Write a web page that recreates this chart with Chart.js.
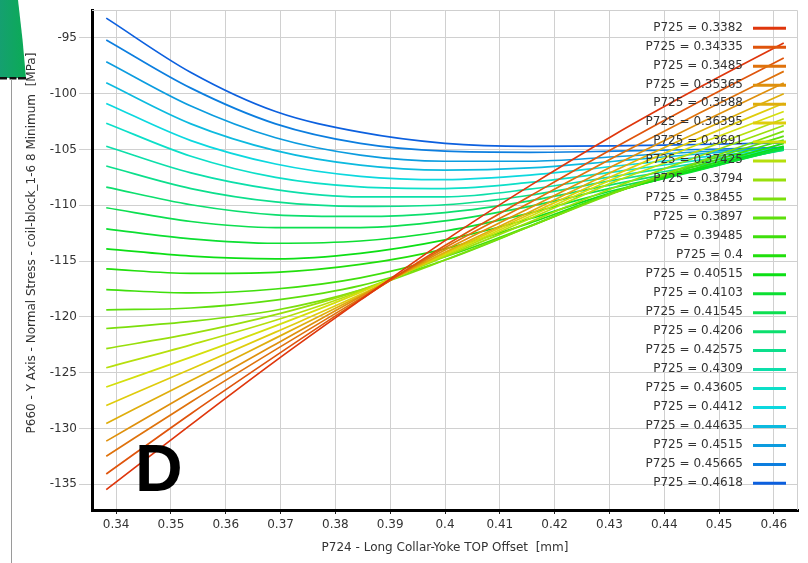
<!DOCTYPE html>
<html>
<head>
<meta charset="utf-8">
<script src="https://cdn.jsdelivr.net/npm/chart.js@4.4.1/dist/chart.umd.min.js"></script>
<style>
html,body{margin:0;padding:0;background:#fff;}
#wrap{width:808px;height:563px;}
</style>
</head>
<body>
<div id="wrap"><canvas id="c" width="808" height="563"></canvas></div>
<script>
// Curve parameter values (legend)
const p725 = [0.3382, 0.34335, 0.3485, 0.35365, 0.3588, 0.36395, 0.3691, 0.37425, 0.3794, 0.38455, 0.3897, 0.39485, 0.4, 0.40515, 0.4103, 0.41545, 0.4206, 0.42575, 0.4309, 0.43605, 0.4412, 0.44635, 0.4515, 0.45665, 0.4618];
// X positions (P724 offset, mm)
const p724 = [0.3382, 0.35365, 0.3691, 0.38455, 0.4, 0.41545, 0.4309, 0.44635, 0.4618];
// Tick values
const yTicks = [-135, -130, -125, -120, -115, -110, -105, -100, -95];
const xTicks = [0.34, 0.35, 0.36, 0.37, 0.38, 0.39, 0.4, 0.41, 0.42, 0.43, 0.44, 0.45, 0.46];

// Series values (MPa) for each P725 curve
const s00 = [-135.48, -129.65, -123.94, -118.5, -113.16, -108.26, -103.67, -99.45, -95.45];
const s01 = [-134.07, -128.67, -123.49, -118.45, -113.6, -109.19, -104.85, -100.72, -96.8];
const s02 = [-132.48, -127.62, -122.93, -118.35, -113.8, -109.76, -105.68, -101.76, -98.0];
const s03 = [-131.13, -126.73, -122.44, -118.2, -114.0, -110.25, -106.41, -102.67, -99.05];
const s04 = [-129.54, -125.7, -121.9, -118.1, -114.2, -110.6, -106.9, -103.4, -100.0];
const s05 = [-127.93, -124.66, -121.36, -118.0, -114.3, -110.8, -107.3, -104.0, -100.85];
const s06 = [-126.28, -123.6, -120.8, -117.8, -114.4, -111.0, -107.6, -104.5, -101.6];
const s07 = [-124.55, -122.5, -120.3, -117.7, -114.5, -111.2, -107.9, -105.1, -102.25];
const s08 = [-122.84, -121.5, -119.8, -117.6, -114.6, -111.5, -108.4, -105.6, -102.85];
const s09 = [-121.04, -120.4, -119.4, -117.6, -114.9, -111.9, -108.9, -106.1, -103.35];
const s10 = [-119.36, -119.2, -118.5, -117.2, -114.9, -111.9, -108.8, -106.2, -103.8];
const s11 = [-117.56, -117.85, -117.5, -116.5, -114.6, -111.85, -108.85, -106.4, -104.15];
const s12 = [-115.7, -116.1, -116.0, -115.3, -113.9, -111.6, -108.85, -106.6, -104.45];
const s13 = [-113.9, -114.55, -114.8, -114.3, -113.1, -111.2, -108.8, -106.75, -104.7];
const s14 = [-112.11, -113.0, -113.4, -113.2, -112.3, -110.7, -108.65, -106.85, -104.85];
const s15 = [-110.22, -111.45, -112.0, -112.0, -111.4, -110.1, -108.4, -106.8, -104.95];
const s16 = [-108.37, -109.95, -110.85, -111.0, -110.65, -109.6, -108.1, -106.65, -105.0];
const s17 = [-106.48, -108.5, -109.7, -110.1, -109.95, -109.1, -107.75, -106.45, -105.05];
const s18 = [-104.71, -107.1, -108.6, -109.25, -109.25, -108.55, -107.4, -106.2, -105.05];
const s19 = [-102.64, -105.6, -107.5, -108.35, -108.5, -107.95, -107.0, -105.95, -105.0];
const s20 = [-100.87, -104.2, -106.3, -107.4, -107.7, -107.3, -106.5, -105.7, -104.95];
const s21 = [-99.02, -102.7, -105.1, -106.4, -106.85, -106.65, -106.05, -105.4, -104.9];
const s22 = [-97.13, -101.1, -103.95, -105.5, -106.05, -106.05, -105.65, -105.2, -104.85];
const s23 = [-95.18, -99.5, -102.7, -104.45, -105.15, -105.25, -105.15, -105.0, -104.8];
const s24 = [-93.23, -98.1, -101.6, -103.45, -104.45, -104.72, -104.68, -104.55, -104.4];

const series = [s00,s01,s02,s03,s04,s05,s06,s07,s08,s09,s10,s11,s12,s13,s14,s15,s16,s17,s18,s19,s20,s21,s22,s23,s24];

const yTitle = 'P660 - Y Axis - Normal Stress - coil-block_1-6 8 Minimum  [MPa]';
const xTitle = 'P724 - Long Collar-Yoke TOP Offset  [mm]';

function colorFor(i, n) {
  const h = 12 + i * (216 - 12) / (n - 1);
  return 'hsl(' + h.toFixed(1) + ', 90%, 46%)';
}

const datasets = series.map((vals, i) => ({
  label: 'P725 = ' + p725[i],
  data: vals.map((v, k) => ({x: p724[k], y: v})),
  borderColor: colorFor(i, series.length),
  backgroundColor: colorFor(i, series.length),
  borderWidth: 1.7,
  pointRadius: 0,
  fill: false,
  cubicInterpolationMode: 'monotone'
}));

const decoPlugin = {
  id: 'deco',
  beforeDatasetsDraw(chart) {
    const {ctx, chartArea: a} = chart;
    ctx.save();
    ctx.strokeStyle = '#cfcfcf';
    ctx.lineWidth = 1;
    ctx.beginPath();
    ctx.moveTo(a.left, a.top + 0.5);
    ctx.lineTo(a.right - 0.5, a.top + 0.5);
    ctx.lineTo(a.right - 0.5, a.bottom);
    ctx.stroke();
    ctx.restore();
  },
  afterDraw(chart) {
    const {ctx, chartArea: a} = chart;
    ctx.save();
    // top-left green fragment
    const g = ctx.createLinearGradient(0, 0, 26, 0);
    g.addColorStop(0, '#15a070');
    g.addColorStop(1, '#0bab55');
    ctx.fillStyle = g;
    ctx.beginPath();
    ctx.moveTo(0, 0);
    ctx.lineTo(18, 0);
    ctx.quadraticCurveTo(23, 40, 26, 78);
    ctx.lineTo(0, 78);
    ctx.closePath();
    ctx.fill();
    ctx.fillStyle = '#111';
    ctx.fillRect(0, 77, 7, 2.5);
    ctx.fillRect(9.5, 77, 7, 2.5);
    ctx.fillRect(18, 77, 8, 2.5);
    ctx.strokeStyle = '#9a9a9a';
    ctx.lineWidth = 1;
    ctx.beginPath();
    ctx.moveTo(11.5, 79);
    ctx.lineTo(11.5, 563);
    ctx.stroke();

    // axis titles
    ctx.fillStyle = '#333';
    ctx.font = '12px "DejaVu Sans"';
    ctx.textAlign = 'center';
    ctx.textBaseline = 'middle';
    ctx.fillText(xTitle, (a.left + a.right) / 2, 548);
    ctx.save();
    ctx.translate(32, 243);
    ctx.rotate(-Math.PI / 2);
    ctx.fillText(yTitle, 0, 0);
    ctx.restore();

    // legend
    ctx.textAlign = 'right';
    ctx.textBaseline = 'middle';
    chart.data.datasets.forEach((ds, i) => {
      const y = 27.5 + i * 18.96;
      ctx.fillStyle = '#333';
      ctx.fillText(ds.label, 743, y);
      ctx.strokeStyle = ds.borderColor;
      ctx.lineWidth = 3;
      ctx.beginPath();
      ctx.moveTo(753, y + 0.8);
      ctx.lineTo(786, y + 0.8);
      ctx.stroke();
    });

    // panel letter
    ctx.fillStyle = '#000';
    ctx.font = 'bold 66px "Liberation Sans"';
    ctx.textAlign = 'left';
    ctx.textBaseline = 'alphabetic';
    ctx.fillText('D', 135, 490.5);
    ctx.restore();
  }
};

Chart.defaults.font.family = '"DejaVu Sans"';
Chart.defaults.font.size = 12;
Chart.defaults.color = '#333';

new Chart(document.getElementById('c'), {
  type: 'line',
  data: {datasets},
  options: {
    responsive: false,
    animation: false,
    devicePixelRatio: 1,
    layout: {padding: {top: 10, right: 10, left: 0, bottom: 0}},
    plugins: {legend: {display: false}, tooltip: {enabled: false}},
    scales: {
      x: {
        type: 'linear',
        min: 0.3356,
        max: 0.4644,
        afterFit(s) { s.height = 53; },
        afterBuildTicks(s) { s.ticks = xTicks.map(v => ({value: v})); },
        ticks: {
          padding: 4,
          maxRotation: 0,
          autoSkip: false,
          color: '#333',
          callback: v => Number(v.toFixed(2)).toString()
        },
        grid: {color: '#d0d0d0', lineWidth: 1, tickLength: 4, tickColor: '#222', tickWidth: 1},
        border: {color: '#000', width: 3}
      },
      y: {
        type: 'linear',
        min: -137.3,
        max: -92.5,
        afterFit(s) { s.width = 92; },
        afterBuildTicks(s) { s.ticks = yTicks.map(v => ({value: v})); },
        ticks: {
          padding: 2,
          color: '#333',
          callback: v => String(v)
        },
        grid: {color: '#d0d0d0', lineWidth: 1, tickLength: 13, tickColor: '#d0d0d0'},
        border: {color: '#000', width: 3}
      }
    }
  },
  plugins: [decoPlugin]
});
</script>
</body>
</html>
